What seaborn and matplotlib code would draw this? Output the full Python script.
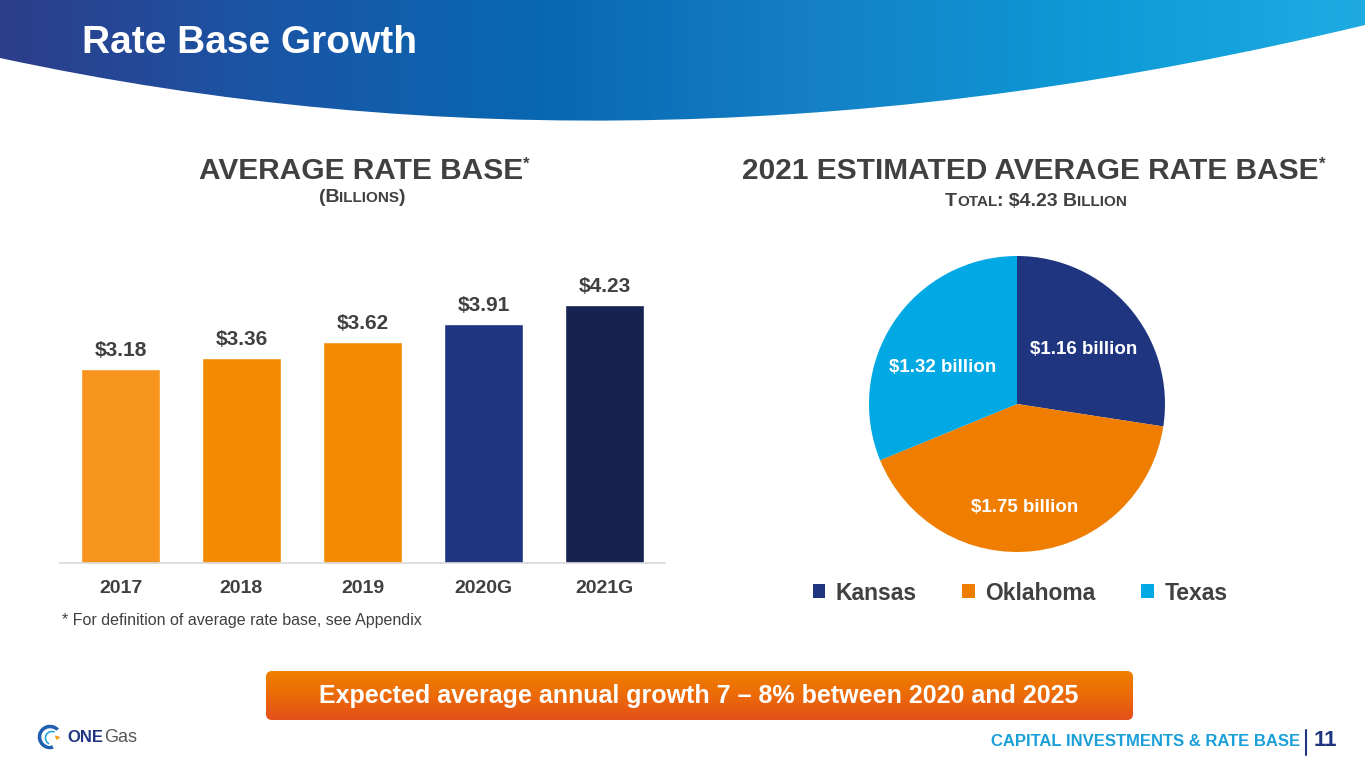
import numpy as np
import matplotlib
matplotlib.use("Agg")
import matplotlib.pyplot as plt
import seaborn as sns
from matplotlib.path import Path
from matplotlib.patches import PathPatch, FancyBboxPatch, Wedge
from matplotlib.offsetbox import TextArea, HPacker, AnnotationBbox
from matplotlib.colors import LinearSegmentedColormap

# ---- data ----
years = ["2017", "2018", "2019", "2020G", "2021G"]
rate_base = [3.18, 3.36, 3.62, 3.91, 4.23]
bar_colors = ["#f7941d", "#f38b00", "#f38b00", "#1f3580", "#16224f"]

states = ["Kansas", "Oklahoma", "Texas"]
state_base = [1.16, 1.75, 1.32]
state_colors = ["#1f3580", "#ef7d00", "#00a8e4"]

sns.set_theme(style="white")
FONT = ["Liberation Sans", "DejaVu Sans"]
plt.rcParams["font.family"] = FONT
DARK = "#404040"

fig = plt.figure(figsize=(13.65, 7.68), dpi=100)
fig.patch.set_facecolor("white")

# background axes in pixel coords
bg = fig.add_axes([0, 0, 1, 1], zorder=0)
bg.set_xlim(0, 1365)
bg.set_ylim(768, 0)
bg.axis("off")

# header band with curved bottom
hdr_cmap = LinearSegmentedColormap.from_list(
    "hdr", ["#2d3d8a", "#1a56a6", "#0868b2", "#1580c6", "#0d9ad6", "#1fabe2"])
grad = np.linspace(0, 1, 256).reshape(1, -1)
im = bg.imshow(grad, cmap=hdr_cmap, extent=[0, 1365, 130, 0], aspect="auto", zorder=1)
hdr_path = Path([(0, 0), (1365, 0), (1365, 25), (650, 198), (0, 58), (0, 0)],
                [Path.MOVETO, Path.LINETO, Path.LINETO, Path.CURVE3, Path.CURVE3, Path.CLOSEPOLY])
hdr_patch = PathPatch(hdr_path, transform=bg.transData, facecolor="none", edgecolor="none")
bg.add_patch(hdr_patch)
im.set_clip_path(hdr_patch)
bg.text(82, 43, "Rate Base Growth", color="white", fontsize=28, fontweight="bold",
        va="center", ha="left", zorder=3)


def place(parts, x, y, align="baseline"):
    boxes = [TextArea(s, textprops=dict(color=DARK, fontsize=fs, fontweight="bold"))
             for s, fs in parts]
    pack = HPacker(children=boxes, align=align, pad=0, sep=0)
    ab = AnnotationBbox(pack, (x, y), xycoords=bg.transData, frameon=False,
                        box_alignment=(0.5, 0.5), pad=0)
    bg.add_artist(ab)


# chart titles
place([("AVERAGE RATE BASE", 21.5), ("*", 12)], 364, 171, align="top")
place([("(B", 14), ("ILLIONS", 11), (")", 14)], 362, 197)
place([("2021 ESTIMATED AVERAGE RATE BASE", 21.5), ("*", 12)], 1034, 171, align="top")
place([("T", 14), ("OTAL", 11), (": $4.23 B", 14), ("ILLION", 11)], 1036, 201)

# ---- bar chart ----
ax = fig.add_axes([60 / 1365, (768 - 563) / 768, 605 / 1365, 313 / 768], zorder=2)
ax.patch.set_alpha(0)
sns.barplot(x=years, y=rate_base, hue=years, palette=bar_colors, width=0.66,
            legend=False, ax=ax, saturation=1)
ax.set_ylim(0, 313 / 61)
ax.set_xlim(-0.5, 4.5)
for i, v in enumerate(rate_base):
    ax.text(i, v + 0.15, f"${v:.2f}", ha="center", va="bottom", fontsize=15,
            fontweight="bold", color=DARK)
for s in ["top", "right", "left"]:
    ax.spines[s].set_visible(False)
ax.spines["bottom"].set_color("#d9d9d9")
ax.spines["bottom"].set_linewidth(1.2)
ax.set_yticks([])
ax.set_xticks(range(len(years)))
ax.set_xticklabels(years, fontsize=14, fontweight="bold", color=DARK)
ax.tick_params(axis="x", length=0, pad=12)
ax.set_xticks(np.arange(-0.5, 5, 1), minor=True)
ax.tick_params(axis="x", which="minor", length=6, color="#d9d9d9", width=1.2)

bg.text(62, 620, "* For definition of average rate base, see Appendix", fontsize=11.5,
        color=DARK, va="center", ha="left")

# ---- pie chart ----
pax = fig.add_axes([869 / 1365, (768 - 552) / 768, 296 / 1365, 296 / 768], zorder=2)
wedges, _ = pax.pie(state_base, colors=state_colors, startangle=90, counterclock=False,
                    radius=1, wedgeprops=dict(linewidth=0))
pax.set_xlim(-1, 1)
pax.set_ylim(-1, 1)
pax.set_aspect("equal")
label_pos = [(0.45, 0.37), (0.05, -0.70), (-0.50, 0.25)]
for (lx, ly), v in zip(label_pos, state_base):
    pax.text(lx, ly, f"${v:.2f} billion", color="white", fontsize=13.5, fontweight="bold",
             ha="center", va="center")
leg = fig.legend(wedges, states, loc="center", bbox_to_anchor=(1020 / 1365, 1 - 593 / 768),
                 ncol=3, frameon=False, fontsize=16.5, handlelength=0.55, handleheight=0.55,
                 columnspacing=2.0, handletextpad=0.45)
for t in leg.get_texts():
    t.set_color(DARK)
    t.set_fontweight("bold")

# ---- banner ----
ban_cmap = LinearSegmentedColormap.from_list("ban", ["#f07f00", "#ec6a08", "#e4501a"])
bim = bg.imshow(np.linspace(0, 1, 64).reshape(-1, 1), cmap=ban_cmap,
                extent=[266, 1133, 720, 671], aspect="auto", zorder=1)
ban = FancyBboxPatch((266, 671), 867, 49, boxstyle="round,pad=0,rounding_size=6",
                     transform=bg.transData, facecolor="none", edgecolor="none")
bg.add_patch(ban)
bim.set_clip_path(ban)
bg.text(699, 696, "Expected average annual growth 7 \u2013 8% between 2020 and 2025",
        color="white", fontsize=18, fontweight="bold", ha="center", va="center", zorder=3)
bg.set_xlim(0, 1365)
bg.set_ylim(768, 0)

# ---- footer ----
bg.add_patch(Wedge((50, 737), 13, 70, 320, width=5, facecolor="#1f5fae", zorder=3))
bg.add_patch(Wedge((52, 738), 8, 110, 300, width=3, facecolor="#1aa3dd", zorder=3))
bg.add_patch(Wedge((56, 741), 6, 250, 330, facecolor="#f6a01a", zorder=3))
bg.text(67, 738, "ONE", color="#1f3580", fontsize=12, fontweight="bold", ha="left", va="center")
bg.text(104, 738, "Gas", color="#555555", fontsize=13, ha="left", va="center")
bg.text(1300, 742, "CAPITAL INVESTMENTS & RATE BASE", color="#1a9fd8", fontsize=12,
        fontweight="bold", ha="right", va="center")
bg.plot([1306, 1306], [730, 755], color="#1f3580", lw=1.5)
bg.text(1314, 741, "11", color="#1f3580", fontsize=16, fontweight="bold", ha="left", va="center")

fig.savefig("out.png", dpi=100)
